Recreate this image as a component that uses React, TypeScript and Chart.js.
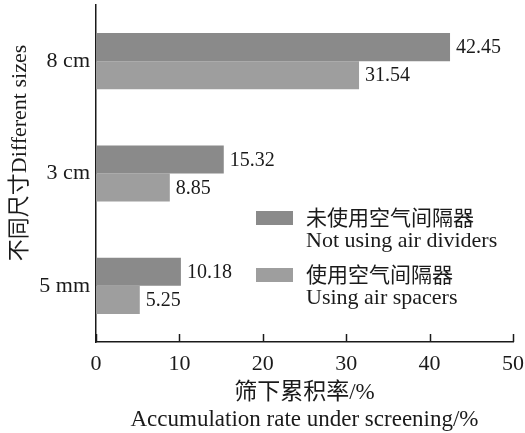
import React, { useEffect, useRef } from "react";
import { Chart, registerables } from "chart.js";

Chart.register(...registerables);

const categories = ["8 cm", "3 cm", "5 mm"];
const seriesNames = ["未使用空气间隔器", "使用空气间隔器"];
const seriesNamesEn = ["Not using air dividers", "Using air spacers"];
const withoutDividers = [42.45, 15.32, 10.18];
const withSpacers = [31.54, 8.85, 5.25];
const xTicks = [0, 10, 20, 30, 40, 50];
const xTitle = ["筛下累积率/%", "Accumulation rate under screening/%"];
const yTitle = "不同尺寸Different sizes";

const SERIF = "'Liberation Serif', 'Times New Roman', 'Noto Sans CJK SC', serif";
const DARK = "#8a8a8a";
const LIGHT = "#9e9e9e";
const INK = "#1a1a1a";

const valueLabels = {
  id: "valueLabels",
  afterDatasetsDraw(chart: any) {
    const ctx = chart.ctx;
    ctx.save();
    ctx.font = `20px ${SERIF}`;
    ctx.fillStyle = INK;
    ctx.textBaseline = "middle";
    ctx.textAlign = "left";
    chart.data.datasets.forEach((ds: any, i: number) => {
      const meta = chart.getDatasetMeta(i);
      meta.data.forEach((el: any, j: number) => {
        ctx.fillText(ds.data[j].toFixed(2), el.x + 6, el.y + 1);
      });
    });
    ctx.restore();
  },
};

const innerTicks = {
  id: "innerTicks",
  afterDraw(chart: any) {
    const sx = chart.scales.x;
    const ctx = chart.ctx;
    ctx.save();
    ctx.strokeStyle = INK;
    ctx.lineWidth = 1.5;
    sx.ticks.forEach((t: any) => {
      const px = Math.round(sx.getPixelForValue(t.value)) + 0.5;
      ctx.beginPath();
      ctx.moveTo(px, sx.top);
      ctx.lineTo(px, sx.top - 8);
      ctx.stroke();
    });
    ctx.restore();
  },
};

const yTitlePlugin = {
  id: "yTitlePlugin",
  afterDraw(chart: any) {
    const ctx = chart.ctx;
    ctx.save();
    ctx.translate(20, 153);
    ctx.rotate(-Math.PI / 2);
    ctx.font = `22px ${SERIF}`;
    ctx.fillStyle = INK;
    ctx.textAlign = "center";
    ctx.textBaseline = "middle";
    ctx.fillText(yTitle, 0, 0);
    ctx.restore();
  },
};

const innerLegend = {
  id: "innerLegend",
  afterDraw(chart: any) {
    const ctx = chart.ctx;
    const boxX = 256;
    const rows = [211, 268];
    ctx.save();
    chart.data.datasets.forEach((ds: any, i: number) => {
      const y = rows[i];
      ctx.fillStyle = ds.backgroundColor;
      ctx.fillRect(boxX, y, 37, 14);
      ctx.fillStyle = INK;
      ctx.textBaseline = "middle";
      ctx.textAlign = "left";
      ctx.font = `21px 'Noto Sans CJK SC', ${SERIF}`;
      ctx.fillText(ds.label, 306, y + 6);
      ctx.font = `22px ${SERIF}`;
      ctx.fillText(seriesNamesEn[i], 306, y + 30);
    });
    ctx.restore();
  },
};

export default function App() {
  const ref = useRef<HTMLCanvasElement | null>(null);
  useEffect(() => {
    if (!ref.current) return;
    const chart = new Chart(ref.current, {
      type: "bar",
      data: {
        labels: categories,
        datasets: [
          { label: seriesNames[0], data: withoutDividers, backgroundColor: DARK, borderWidth: 0 },
          { label: seriesNames[1], data: withSpacers, backgroundColor: LIGHT, borderWidth: 0 },
        ],
      },
      options: {
        indexAxis: "y",
        responsive: false,
        animation: false,
        maintainAspectRatio: false,
        datasets: { bar: { categoryPercentage: 0.5, barPercentage: 1 } },
        layout: { padding: { top: 5, right: 0, bottom: 0, left: 0 } },
        plugins: { legend: { display: false }, tooltip: { enabled: false } },
        scales: {
          x: {
            type: "linear",
            min: 0,
            max: 50,
            afterBuildTicks: (s: any) => {
              s.ticks = xTicks.map((v) => ({ value: v }));
            },
            afterFit: (s: any) => {
              s.height = 91;
              s.paddingRight = 12;
            },
            grid: { display: false, drawTicks: false },
            border: { display: true, color: INK, width: 1.5 },
            ticks: { color: INK, font: { family: SERIF, size: 22 }, padding: 9, maxRotation: 0 },
            title: {
              display: true,
              text: xTitle,
              color: INK,
              font: { family: SERIF, size: 23, lineHeight: 1.17 },
              padding: { top: 0, bottom: 0 },
            },
          },
          y: {
            type: "category",
            afterFit: (s: any) => {
              s.width = 96;
              s.paddingTop = 0;
              s.paddingBottom = 0;
            },
            grid: { display: false, drawTicks: false },
            border: { display: true, color: INK, width: 1.5 },
            ticks: { color: INK, font: { family: SERIF, size: 22 }, padding: 6 },
            title: { display: false },
          },
        },
      },
      plugins: [valueLabels, innerTicks, yTitlePlugin, innerLegend],
    });
    return () => chart.destroy();
  }, []);
  return (
    <div style={{ position: "fixed", left: 0, top: 0, width: 525, height: 433, background: "#fff" }}>
      <canvas ref={ref} width={525} height={433} style={{ width: 525, height: 433 }} />
    </div>
  );
}
